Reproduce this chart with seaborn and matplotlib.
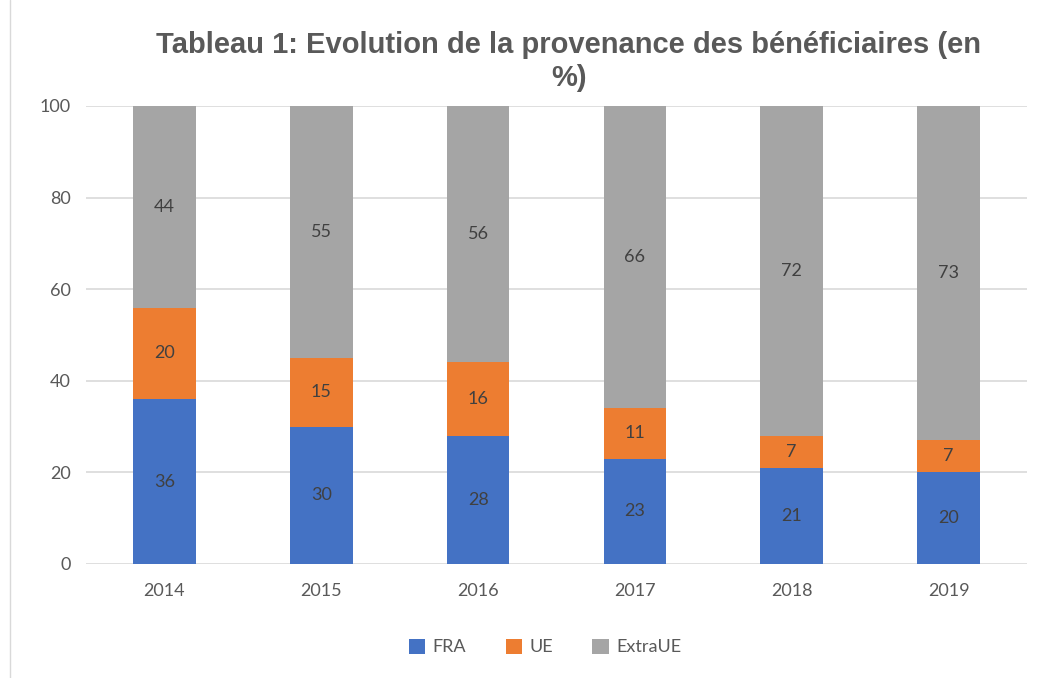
import matplotlib
matplotlib.use("Agg")
import matplotlib.pyplot as plt
import seaborn as sns
import pandas as pd
from matplotlib.lines import Line2D
from matplotlib.patches import Patch

years = ["2014", "2015", "2016", "2017", "2018", "2019"]
fra = [36, 30, 28, 23, 21, 20]
ue = [20, 15, 16, 11, 7, 7]
extra = [44, 55, 56, 66, 72, 73]
series_names = ["FRA", "UE", "ExtraUE"]
colors = ["#4472C4", "#ED7D31", "#A5A5A5"]

sns.set_style("white")
plt.rcParams['font.family'] = ['Lato', 'DejaVu Sans']

fig = plt.figure(figsize=(10.39, 6.78), dpi=100)
ax = fig.add_axes([86/1039, 1-564/678, (1027-86)/1039, (564-106)/678])

df = pd.DataFrame({"year": years, "FRA": fra, "UE": ue, "ExtraUE": extra})
bottoms = [0]*len(years)
for name, col in zip(series_names, colors):
    vals = df[name].tolist()
    sns.barplot(x=df["year"], y=df[name], bottom=bottoms, color=col, width=0.4,
                ax=ax, saturation=1, edgecolor="none", zorder=3)
    for i, (v, b) in enumerate(zip(vals, bottoms)):
        ax.text(i, b + v/2, str(v), ha="center", va="center", fontsize=13,
                color="#404040", zorder=4)
    bottoms = [b + v for b, v in zip(bottoms, vals)]

ax.set_ylim(0, 100)
ax.set_xlim(-0.5, 5.5)
ax.set_yticks([0, 20, 40, 60, 80, 100])
ax.yaxis.grid(True, color="#D9D9D9", linewidth=1.2, zorder=0)
ax.set_axisbelow(True)
for s in ax.spines.values():
    s.set_visible(False)
ax.set_xlabel("")
ax.set_ylabel("")
ax.tick_params(axis="both", length=0, labelsize=13, labelcolor="#595959")
ax.tick_params(axis="y", pad=11)
ax.tick_params(axis="x", pad=14)
for lbl in ax.get_yticklabels():
    lbl.set_horizontalalignment("right")

title_kw = dict(ha="center", va="center", fontsize=21, fontweight="bold", color="#595959",
                family=['Liberation Sans', 'DejaVu Sans'])
fig.text(569/1039, 1-45/678, "Tableau 1: Evolution de la provenance des bénéficiaires (en", **title_kw)
fig.text(569/1039, 1-78/678, "%)", **title_kw)

handles = [Patch(facecolor=c, edgecolor="none") for c in colors]
fig.legend(handles, series_names, loc="center", bbox_to_anchor=(545/1039, 1-647/678),
           ncol=3, frameon=False, fontsize=13, labelcolor="#595959",
           handlelength=0.9, handleheight=0.9, columnspacing=2.2, handletextpad=0.4)

fig.add_artist(Line2D([10/1039, 10/1039], [0, 1], color="#D9D9D9", linewidth=1,
                      transform=fig.transFigure))

fig.savefig("out.png", dpi=100)
